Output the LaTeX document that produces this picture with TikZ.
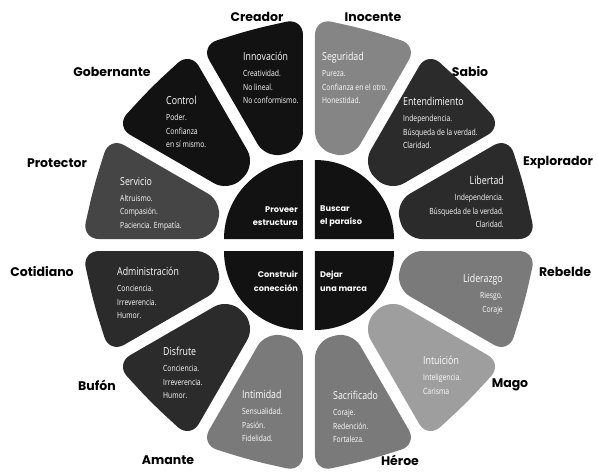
\documentclass[tikz,border=0pt]{standalone}
\usepackage{fontspec}
\usepackage{xcolor}
\usepackage{tikz}
\usetikzlibrary{calc}
\newfontfamily\archfont{Poppins}
\newfontfamily\petalfont{Open Sans}[FakeStretch=0.8]
\newcommand\traittitle[1]{{\fontsize{11}{13.5}\selectfont #1}}

\definecolor{petalblack}{HTML}{121212}
\definecolor{petaldark}{HTML}{2B2B2B}
\definecolor{petalmid}{HTML}{454545}
\definecolor{petalgray}{HTML}{7A7A7A}
\definecolor{petalgrayb}{HTML}{858585}
\definecolor{petallight}{HTML}{9E9E9E}

\begin{document}
\begin{tikzpicture}[x=1pt, y=1pt,
    petal/.style={rounded corners=17pt},
    arch/.style={font=\archfont\bfseries\fontsize{12.5}{14}\selectfont, text=black, inner sep=0pt},
    core/.style={font=\archfont\bfseries\fontsize{8.2}{13.5}\selectfont, text=white, inner sep=0pt},
    trait/.style={font=\petalfont\fontsize{8.5}{13.5}\selectfont, text=white, inner sep=0pt, align=left}]
    \fill[white] (-309,-227) rectangle (289,245);
    \useasboundingbox (-309,-227) rectangle (289,245);

    % twelve petals, counter-clockwise from Explorador
    \foreach \a/\col in {0/petaldark, 30/petaldark, 60/petalgrayb, 90/petalblack, 120/petalblack, 150/petalmid,
        180/petaldark, 210/petaldark, 240/petalgray, 270/petalgray, 300/petallight, 330/petalgray}{
        \pgfmathsetmacro\b{\a+30}
        \pgfmathsetmacro\m{\a+15}
        \fill[petal, \col] ($(\a:96)+({\a+90}:6)$) -- ($(\a:227)+({\a+90}:6)$) -- (\m:223)
            -- ($(\b:227)+({\b-90}:6)$) -- ($(\b:96)+({\b-90}:6)$) -- cycle;
    }

    % core quadrants
    \foreach \sx/\sy/\st in {1/1/0, -1/1/90, -1/-1/180, 1/-1/270}
        \fill[petalblack] ({6*\sx},{6*\sy}) -- ++(\st:79) arc[start angle=\st, delta angle=90, radius=79] -- cycle;

    \node[core, anchor=east, align=right] (proveer) at (-11,29) {Proveer\\estructura};
    \node[core, anchor=west, align=left] (buscar) at (11,29) {Buscar\\el paraíso};
    \node[core, anchor=east, align=right] (construir) at (-11,-36) {Construir\\conección};
    \node[core, anchor=west, align=left] (dejar) at (11,-36) {Dejar\\una marca};

    % petal texts
    \node[trait, anchor=north west] (innovacion) at (-66,193) {\traittitle{Innovación}\\[2.5pt]Creatividad.\\No lineal.\\No conformismo.};
    \node[trait, anchor=north west] (seguridad) at (13,193) {\traittitle{Seguridad}\\[2.5pt]Pureza.\\Confianza en el otro.\\Honestidad.};
    \node[trait, anchor=north west] (entendimiento) at (94,148) {\traittitle{Entendimiento}\\[2.5pt]Independencia.\\Búsqueda de la verdad.\\Claridad.};
    \node[trait, anchor=north east, align=right] (libertad) at (195,69) {\traittitle{Libertad}\\[2.5pt]Independencia.\\Búsqueda de la verdad.\\Claridad.};
    \node[trait, anchor=north east, align=right] (liderazgo) at (194,-29) {\traittitle{Liderazgo}\\[2.5pt]Riesgo.\\Coraje};
    \node[trait, anchor=north west] (intuicion) at (114,-111) {\traittitle{Intuición}\\[2.5pt]Inteligencia.\\Carisma};
    \node[trait, anchor=north west] (sacrificado) at (24,-146) {\traittitle{Sacrificado}\\[2.5pt]Coraje.\\Redención.\\Fortaleza.};
    \node[trait, anchor=north west] (intimidad) at (-67,-145) {\traittitle{Intimidad}\\[2.5pt]Sensualidad.\\Pasión.\\Fidelidad.};
    \node[trait, anchor=north west] (disfrute) at (-146,-102) {\traittitle{Disfrute}\\[2.5pt]Conciencia.\\Irreverencia.\\Humor.};
    \node[trait, anchor=north west] (administracion) at (-192,-22) {\traittitle{Administración}\\[2.5pt]Conciencia.\\Irreverencia.\\Humor.};
    \node[trait, anchor=north west] (servicio) at (-189,68) {\traittitle{Servicio}\\[2.5pt]Altruismo.\\Compasión.\\Paciencia. Empatía.};
    \node[trait, anchor=north west] (control) at (-143,149) {\traittitle{Control}\\[2.5pt]Poder.\\Confianza\\en sí mismo.};

    % archetype names
    \node[arch] (creador) at (-52,228) {Creador};
    \node[arch] (inocente) at (64,228) {Inocente};
    \node[arch] (sabio) at (161,173) {Sabio};
    \node[arch] (explorador) at (249,82) {Explorador};
    \node[arch] (rebelde) at (256,-27) {Rebelde};
    \node[arch] (mago) at (201,-140) {Mago};
    \node[arch] (heroe) at (91,-215) {Héroe};
    \node[arch] (amante) at (-141,-215) {Amante};
    \node[arch] (bufon) at (-212,-140) {Bufón};
    \node[arch] (cotidiano) at (-267,-27) {Cotidiano};
    \node[arch] (protector) at (-252,82) {Protector};
    \node[arch] (gobernante) at (-197,173) {Gobernante};
\end{tikzpicture}
\end{document}
